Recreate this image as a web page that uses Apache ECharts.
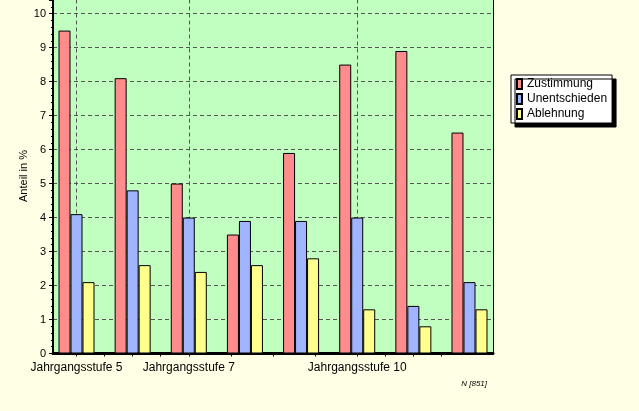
<!DOCTYPE html>
<html>
<head>
<meta charset="utf-8">
<script src="https://cdn.jsdelivr.net/npm/echarts@6/dist/echarts.min.js"></script>
<style>
html,body{margin:0;padding:0;background:#FFFFE6;}
#c{width:639px;height:411px;}
</style>
</head>
<body>
<div id="c"></div>
<script>
// Group labels (only some groups are labelled in the original)
const categories = ['Jahrgangsstufe 5', '', 'Jahrgangsstufe 7', '', '', 'Jahrgangsstufe 10', '', ''];
// x-axis tick positions (in group units)
const xTickPositions = [0, 0.5, 1, 1.5, 2, 2.75, 3.5, 4.25, 5, 5.5, 6, 6.5];
const seriesNames = ['Zustimmung', 'Unentschieden', 'Ablehnung'];
const zustimmung    = [9.5, 8.1, 5.0, 3.5, 5.9, 8.5, 8.9, 6.5];
const unentschieden = [4.1, 4.8, 4.0, 3.9, 3.9, 4.0, 1.4, 2.1];
const ablehnung     = [2.1, 2.6, 2.4, 2.6, 2.8, 1.3, 0.8, 1.3];
const yTicks = [0, 1, 2, 3, 4, 5, 6, 7, 8, 9, 10];

const seriesValues = [zustimmung, unentschieden, ablehnung];
const colors = ['#FF8C8C', '#A0B4FF', '#FFFF8C'];
const labelPositions = categories.map((c, i) => c ? i : -1).filter(i => i >= 0);
const font = 'Liberation Sans';

const chart = echarts.init(document.getElementById('c'), null, {renderer: 'canvas'});
const option = {
  animation: false,
  backgroundColor: '#FFFFE6',
  textStyle: {fontFamily: font},
  grid: {
    left: 53, right: 146, top: 0, bottom: 57.5,
    show: true, backgroundColor: '#C0FFC0', borderWidth: 0
  },
  legend: {
    orient: 'vertical', left: 511, top: 75,
    backgroundColor: '#FFFFFF', borderColor: '#000', borderWidth: 1,
    padding: [2, 5, 2, 5],
    shadowColor: '#000', shadowOffsetX: 4, shadowOffsetY: 4, shadowBlur: 0,
    icon: 'rect', itemWidth: 5, itemHeight: 10, itemGap: 1,
    textStyle: {fontSize: 12, color: '#000', fontFamily: font, lineHeight: 14},
    data: seriesNames
  },
  xAxis: {
    type: 'value',
    min: -0.4186, max: 7.4186,
    axisLine: {show: true, onZero: false, lineStyle: {color: '#000', width: 3}},
    axisTick: {show: true, customValues: xTickPositions, length: 3, lineStyle: {color: '#000'}},
    axisLabel: {
      customValues: labelPositions, margin: 8,
      color: '#000', fontSize: 12, fontFamily: font,
      formatter: v => categories[Math.round(v)] || ''
    },
    splitLine: {show: false}
  },
  yAxis: [{
    type: 'value', min: 0, max: 10.4, interval: 1,
    axisLine: {show: true, onZero: false, lineStyle: {color: '#000', width: 2}},
    axisTick: {show: true, length: 4, lineStyle: {color: '#000'}},
    minorTick: {show: true, splitNumber: 5, length: 2, lineStyle: {color: '#000'}},
    axisLabel: {
      color: '#000', fontSize: 11, margin: 7, fontFamily: font, showMaxLabel: false,
      formatter: v => yTicks.indexOf(v) >= 0 ? String(v) : ''
    },
    splitLine: {show: true, showMaxLine: false, showMinLine: false, lineStyle: {color: '#555', type: [4, 3], width: 1}}
  }, {
    type: 'value', min: 0, max: 10.4, position: 'right',
    axisLine: {show: true, onZero: false, lineStyle: {color: '#000', width: 1}},
    axisTick: {show: false}, axisLabel: {show: false}, splitLine: {show: false}
  }],
  graphic: [
    {type: 'text', x: 24, y: 176, rotation: Math.PI / 2,
     style: {text: 'Anteil in %', fill: '#000', font: '11px "Liberation Sans"', align: 'center', verticalAlign: 'middle'}},
    {type: 'text', x: 487, y: 384,
     style: {text: 'N [851]', fill: '#000', font: 'italic 8px "Liberation Sans"', align: 'right', verticalAlign: 'middle'}}
  ],
  series: seriesNames.map((name, k) => ({
    name: name,
    type: 'bar',
    barWidth: 12,
    barGap: '0%',
    data: seriesValues[k].map((v, i) => [i, v]),
    itemStyle: {color: colors[k], borderColor: '#000', borderWidth: 1},
    emphasis: {disabled: true},
    markLine: k === 1 ? {
      silent: true, z: 1, symbol: ['none', 'none'], label: {show: false},
      lineStyle: {color: '#555', type: [4, 3], width: 1},
      emphasis: {disabled: true},
      data: labelPositions.map(p => ({xAxis: p}))
    } : undefined
  }))
};
chart.setOption(option);
</script>
</body>
</html>
